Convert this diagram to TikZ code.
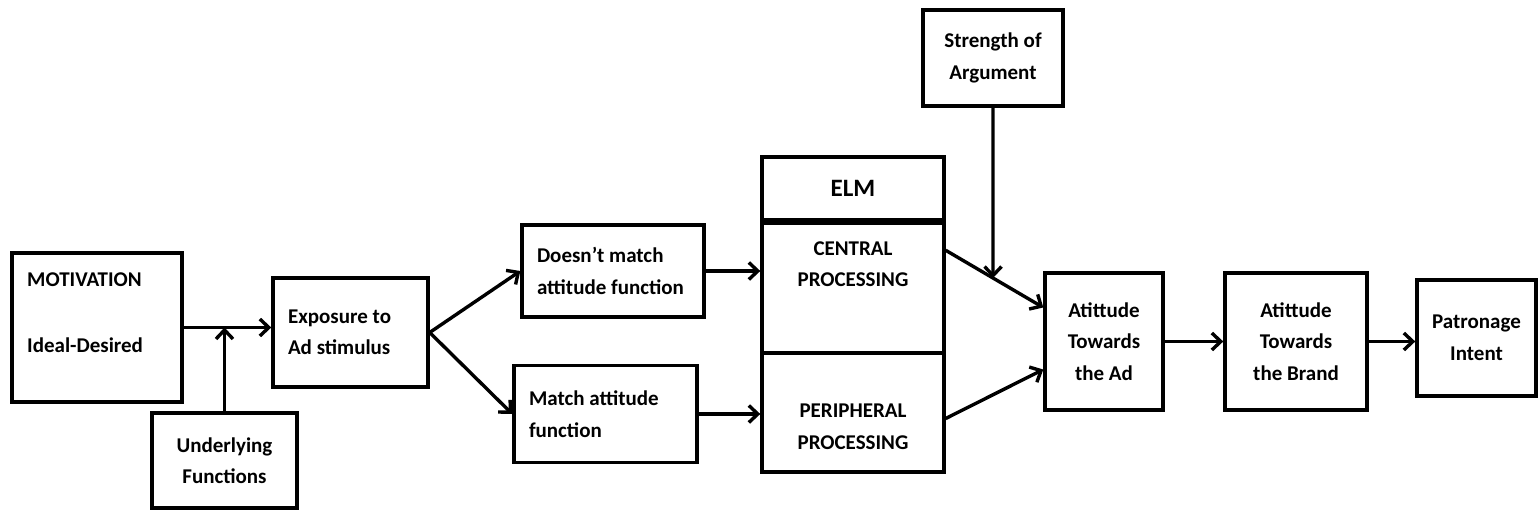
\documentclass[tikz,border=0pt]{standalone}
\usepackage{fontspec}
\setmainfont{Carlito}
\usetikzlibrary{arrows.meta}
\begin{document}
\begin{tikzpicture}[x=1pt,y=-1pt,
  txt/.style={font=\fontsize{21}{31.5}\selectfont\bfseries},
  box/.style={draw=black, line width=3.4pt, rectangle, inner sep=0pt, align=center, txt},
  lbox/.style={box, align=flush left, inner xsep=15pt},
  lbl/.style={txt, inner sep=0pt, align=center},
  arr/.style={draw=black, line width=3.4pt, -{Straight Barb[length=9pt,width=17pt]}}
]
\useasboundingbox (0,0) rectangle (1539,513);

% boxes
\node[box, minimum width=170pt, minimum height=149pt] (mot) at (97,327.5) {};
\node[lbl, anchor=west] (motA) at (27,280) {MOTIVATION};
\node[lbl, anchor=west] (motB) at (27,345) {Ideal-Desired};

\node[box, minimum width=145pt, minimum height=95pt] (und) at (224.5,460.5) {Underlying\\Functions};

\node[lbox, minimum width=155pt, minimum height=109pt, text width=125pt] (expo) at (350.5,332.5) {\mbox{Exposure to}\\\mbox{Ad stimulus}};

\node[lbox, minimum width=182pt, minimum height=92pt, text width=152pt] (dm) at (613,271) {\mbox{Doesn’t match}\\\mbox{attitude function}};
\node[lbox, minimum width=183pt, minimum height=97pt, text width=153pt] (ma) at (605.5,414) {\mbox{Match attitude}\\function};

% ELM stack
\node[box, minimum width=182pt, minimum height=63pt, font=\fontsize{25}{30}\selectfont\bfseries] (elm) at (853,188.5) {ELM};
\node[box, minimum width=182pt, minimum height=133pt] (cen) at (853,286.5) {};
\node[lbl] (cenT) at (853,264) {CENTRAL\\PROCESSING};
\node[box, minimum width=182pt, minimum height=119pt] (per) at (853,412.5) {};
\node[lbl] (perT) at (853,427) {PERIPHERAL\\PROCESSING};
\draw[line width=6pt] (elm.south west) -- (elm.south east);

\node[box, minimum width=140pt, minimum height=96pt] (str) at (993,58) {Strength of\\Argument};

\node[box, minimum width=118pt, minimum height=137pt] (ad) at (1104,341.5) {Atittude\\Towards\\the Ad};
\node[box, minimum width=142pt, minimum height=137pt] (br) at (1296,341.5) {Atittude\\Towards\\the Brand};
\node[box, minimum width=119pt, minimum height=116pt] (pat) at (1476.5,338) {Patronage\\Intent};

% connectors
\draw[arr] (mot.east) -- (mot.east -| expo.west);
\coordinate (j) at (und.north |- mot.east);
\draw[arr] (und.north) -- (j);

\draw[arr] (expo.east) -- (dm.west);
\draw[arr] (expo.east) -- (ma.west);

\draw[arr] (dm.east) -- (dm.east -| cen.west);
\draw[arr] (ma.east) -- (ma.east -| per.west);

\coordinate (cs) at ([yshift=-32pt]cen.north east);
\coordinate (ce) at ([yshift=34pt]ad.west);
\draw[arr] (cs) -- (ce);
\coordinate (ps) at ([yshift=-6pt]per.east);
\coordinate (pe) at ([yshift=-28pt]ad.west);
\draw[arr] (ps) -- (pe);

\coordinate (sb) at (str.south |- ad.south);
\coordinate (meet) at (intersection of cs--ce and str.south--sb);
\draw[arr] (str.south) -- (meet);

\draw[arr] (ad.east) -- (br.west);
\draw[arr] (br.east) -- (br.east -| pat.west);
\end{tikzpicture}
\end{document}
